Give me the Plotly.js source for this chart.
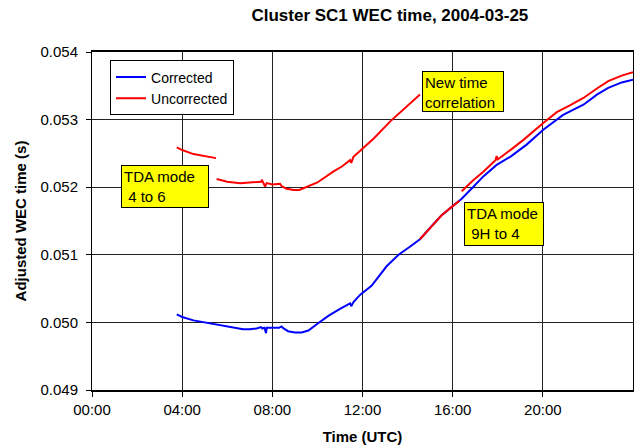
<!DOCTYPE html>
<html>
<head>
<meta charset="utf-8">
<script src="https://cdn.plot.ly/plotly-3.0.1.min.js"></script>
<style>html,body{margin:0;padding:0;background:#fff;}#chart{width:635px;height:447px;}</style>
</head>
<body>
<div id="chart"></div>
<script>
// Hours UTC on 2004-03-25
var correctedTime = [3.76, 4.0, 4.5, 5.0, 5.4, 6.0, 6.4, 6.7, 7.0, 7.3, 7.5, 7.55, 7.65, 7.72, 7.75, 8.0, 8.3, 8.4, 8.5, 8.7, 9.0, 9.3, 9.6, 10.0, 10.5, 11.0, 11.45, 11.5, 11.6, 11.9, 12.4, 13.07, 13.6, 14.1, 14.55, 15.0, 15.5, 16.0, 16.4, 16.9, 17.36, 17.95, 18.6, 19.28, 20.02, 20.9, 21.8, 22.4, 22.9, 23.5, 24.0];
var correctedValue = [0.05012, 0.05008, 0.05003, 0.05000, 0.04997, 0.04994, 0.04991, 0.04990, 0.04990, 0.04991, 0.04993, 0.04991, 0.04992, 0.04984, 0.04992, 0.04992, 0.04992, 0.04994, 0.04991, 0.04987, 0.04985, 0.04985, 0.04988, 0.04998, 0.05010, 0.05020, 0.05028, 0.05024, 0.05030, 0.05041, 0.05054, 0.05083, 0.05100, 0.05112, 0.05123, 0.05140, 0.05158, 0.05172, 0.05183, 0.05200, 0.05216, 0.05233, 0.05246, 0.05263, 0.05285, 0.05307, 0.05322, 0.05337, 0.05347, 0.05355, 0.05359];

// Uncorrected: null entries separate the recorded segments
var uncorrectedTime = [3.76, 4.0, 4.5, 5.0, 5.5, null,
  5.53, 6.0, 6.57, 7.0, 7.5, 7.53, 7.6, 7.68, 7.75, 8.0, 8.34, 8.4, 8.6, 8.93, 9.2, 9.52, 10.0, 10.7, 11.1, 11.45, 11.5, 11.6, 11.89, 12.5, 13.22, 13.9, 14.55, null,
  14.55, 15.0, 15.5, 16.0, 16.3, null,
  16.4, 16.9, 17.36, 17.9, 17.95, 18.0, 18.6, 19.14, 20.02, 20.62, 21.2, 21.8, 22.4, 22.9, 23.5, 24.0];
var uncorrectedValue = [0.05259, 0.05255, 0.05249, 0.05246, 0.05243, null,
  0.05212, 0.05208, 0.05206, 0.05207, 0.05208, 0.05211, 0.05206, 0.05201, 0.05206, 0.05204, 0.05205, 0.05202, 0.05198, 0.05196, 0.05196, 0.05200, 0.05207, 0.05223, 0.05231, 0.05240, 0.05236, 0.05245, 0.05254, 0.05272, 0.05297, 0.05318, 0.05337, null,
  0.05123, 0.05140, 0.05158, 0.05172, 0.05180, null,
  0.05194, 0.05210, 0.05223, 0.05240, 0.05246, 0.05241, 0.05256, 0.05270, 0.05295, 0.05311, 0.05321, 0.05332, 0.05346, 0.05357, 0.05365, 0.05370];

var xTickVals = [0, 4, 8, 12, 16, 20];
var xTickText = ['00:00', '04:00', '08:00', '12:00', '16:00', '20:00'];
var seriesNames = ['Corrected', 'Uncorrected'];
var noteTexts = ['TDA mode<br>\u00a04 to 6', 'New time<br>correlation', 'TDA mode<br>\u00a09H to 4'];
var noteX = [1.27, 14.65, 16.52];
var noteY = [0.052333, 0.053723, 0.051775];
var noteW = [82, 76, 74];
var noteH = [37, 35, 38];

var FONT = '"Liberation Sans", Arial, sans-serif';

var traces = [
  {x: correctedTime, y: correctedValue, name: seriesNames[0], type: 'scatter', mode: 'lines',
   line: {color: '#0000ff', width: 2}, connectgaps: false},
  {x: uncorrectedTime, y: uncorrectedValue, name: seriesNames[1], type: 'scatter', mode: 'lines',
   line: {color: '#ff0000', width: 2}, connectgaps: false}
];

var annotations = noteTexts.map(function(t, i){
  return {x: noteX[i], y: noteY[i], xref: 'x', yref: 'y', text: t, showarrow: false,
    xanchor: 'left', yanchor: 'top', align: 'left', valign: 'top',
    width: noteW[i], height: noteH[i],
    bgcolor: '#ffff00', bordercolor: '#000', borderwidth: 1, borderpad: 2,
    font: {family: FONT, size: 15, color: '#000'}};
});

var layout = {
  width: 635, height: 447,
  margin: {l: 92, r: 2, t: 52, b: 57, pad: 0},
  paper_bgcolor: '#fff', plot_bgcolor: '#fff',
  font: {family: FONT, color: '#000'},
  title: {text: '<b>Cluster SC1 WEC time, 2004-03-25</b>', font: {family: FONT, size: 17, color: '#000'},
    xref: 'container', x: 0.614, xanchor: 'center', yref: 'container', y: 1 - 15/447, yanchor: 'middle'},
  xaxis: {range: [0, 24], tickvals: xTickVals, ticktext: xTickText,
    showgrid: true, gridcolor: '#222', gridwidth: 1,
    showline: true, linecolor: '#000', linewidth: 2, mirror: true,
    ticks: 'outside', ticklen: 5, tickcolor: '#000', zeroline: false,
    tickfont: {family: FONT, size: 15, color: '#000'},
    title: {text: '<b>Time (UTC)</b>', font: {family: FONT, size: 15, color: '#000'}, standoff: 14}},
  yaxis: {range: [0.049, 0.054], dtick: 0.001, tick0: 0.049, tickformat: '.3f',
    showgrid: true, gridcolor: '#222', gridwidth: 1,
    showline: true, linecolor: '#000', linewidth: 1, mirror: true,
    ticks: 'outside', ticklen: 5, tickcolor: '#000', zeroline: false,
    ticklabelstandoff: 5,
    tickfont: {family: FONT, size: 15, color: '#000'},
    title: {text: '<b>Adjusted WEC time (s)</b>', font: {family: FONT, size: 15, color: '#000'}, standoff: 10}},
  showlegend: true,
  legend: {x: 0.0333, y: 0.975, xanchor: 'left', yanchor: 'top', bgcolor: '#fff',
    bordercolor: '#000', borderwidth: 1, tracegroupgap: 0, font: {family: FONT, size: 14, color: '#000'}},
  annotations: annotations
};

Plotly.newPlot('chart', traces, layout, {displayModeBar: false, staticPlot: true});
</script>
</body>
</html>
